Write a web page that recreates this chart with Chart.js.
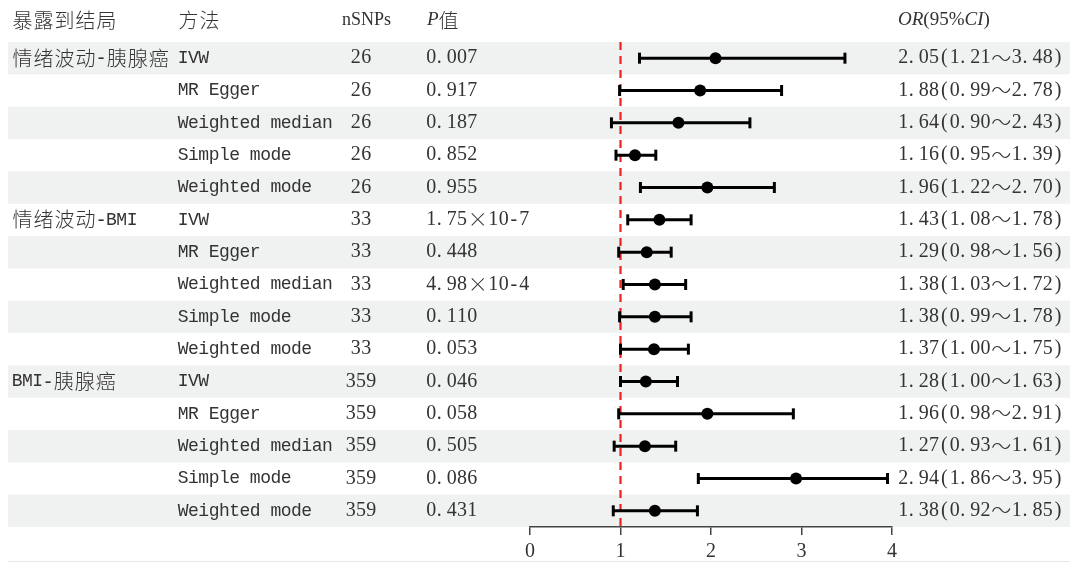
<!DOCTYPE html>
<html>
<head>
<meta charset="utf-8">
<script src="https://cdn.jsdelivr.net/npm/chart.js@4.4.1/dist/chart.umd.min.js"></script>
<style>
  html, body { margin: 0; padding: 0; background: #ffffff; }
  #wrap { width: 1070px; height: 562px; }
</style>
</head>
<body>
<div id="wrap"><canvas id="c" width="1070" height="562"></canvas></div>
<script>
// Rows, top to bottom
const exposures = ['情绪波动-胰腺癌', '', '', '', '', '情绪波动-BMI', '', '', '', '', 'BMI-胰腺癌', '', '', '', ''];
const methods = ['IVW', 'MR Egger', 'Weighted median', 'Simple mode', 'Weighted mode',
                 'IVW', 'MR Egger', 'Weighted median', 'Simple mode', 'Weighted mode',
                 'IVW', 'MR Egger', 'Weighted median', 'Simple mode', 'Weighted mode'];
const nsnps = [26, 26, 26, 26, 26, 33, 33, 33, 33, 33, 359, 359, 359, 359, 359];
const pvals = ['0.007', '0.917', '0.187', '0.852', '0.955',
               '1.75×10-7', '0.448', '4.98×10-4', '0.110', '0.053',
               '0.046', '0.058', '0.505', '0.086', '0.431'];
const orVals = [2.05, 1.88, 1.64, 1.16, 1.96, 1.43, 1.29, 1.38, 1.38, 1.37, 1.28, 1.96, 1.27, 2.94, 1.38];
const ciLow  = [1.21, 0.99, 0.90, 0.95, 1.22, 1.08, 0.98, 1.03, 0.99, 1.00, 1.00, 0.98, 0.93, 1.86, 0.92];
const ciHigh = [3.48, 2.78, 2.43, 1.39, 2.70, 1.78, 1.56, 1.72, 1.78, 1.75, 1.63, 2.91, 1.61, 3.95, 1.85];
const xTicks = [0, 1, 2, 3, 4];
const refValue = 1;

const TXT = '#333333';
const BAND = '#f0f1f1';
const HALF = 10.3, FULL = 21;
const CJK_FONT = '300 20px "Noto Sans CJK SC"';
const NUM_FONT = '20px "Liberation Serif"';
const LAT_FONT = '18px "Liberation Mono"';

function isWide(ch){ return ch === '×' || /[\u2E80-\u9FFF\uFF00-\uFFEF]/.test(ch); }

// SimSun-like fixed cell text: half width for latin, full width for CJK
function cellWidth(str){
  let w = 0;
  for (const ch of str) w += isWide(ch) ? FULL : HALF;
  return w;
}
function drawCells(ctx, str, x, y, align){
  if (align === 'center') x -= cellWidth(str) / 2;
  ctx.textBaseline = 'middle';
  for (const ch of str){
    if (isWide(ch)){
      ctx.font = CJK_FONT; ctx.textAlign = 'center';
      ctx.fillText(ch, x + FULL / 2, y);
      x += FULL;
    } else {
      if (ch === '.'){
        ctx.font = NUM_FONT; ctx.textAlign = 'left';
        ctx.fillText(ch, x + 0.5, y);
      } else {
        ctx.font = /[0-9()%\-]/.test(ch) ? NUM_FONT : LAT_FONT;
        ctx.textAlign = 'center';
        ctx.fillText(ch, x + HALF / 2, y);
      }
      x += HALF;
    }
  }
}
// proportional runs: [text, font]
function drawRuns(ctx, runs, x, y){
  ctx.textBaseline = 'middle'; ctx.textAlign = 'left';
  for (const r of runs){
    ctx.font = r[1];
    ctx.fillText(r[0], x, y);
    x += ctx.measureText(r[0]).width;
  }
}

const rowIdx = methods.map((m, i) => i + 1);

const tablePlugin = {
  id: 'forestTable',
  beforeDraw(chart){
    const ctx = chart.ctx, ys = chart.scales.y;
    ctx.save();
    ctx.fillStyle = BAND;
    rowIdx.forEach(r => {
      if (r % 2 === 1){
        const top = ys.getPixelForValue(r - 0.5), bot = ys.getPixelForValue(r + 0.5);
        ctx.fillRect(8, top, chart.width - 8, bot - top);
      }
    });
    ctx.restore();
  },
  afterDraw(chart){
    const ctx = chart.ctx, ys = chart.scales.y;
    ctx.save();
    ctx.fillStyle = TXT;
    const hy = 20;
    drawCells(ctx, '暴露到结局', 12, hy);
    drawCells(ctx, '方法', 178, hy);
    drawRuns(ctx, [['nSNPs', '18px "Liberation Serif"']], 342, hy);
    drawRuns(ctx, [['P', 'italic 19px "Liberation Serif"'], ['值', CJK_FONT]], 427, hy);
    drawRuns(ctx, [['OR', 'italic 19px "Liberation Serif"'], ['(95%', '19px "Liberation Serif"'],
                   ['CI', 'italic 19px "Liberation Serif"'], [')', '19px "Liberation Serif"']], 898, hy);
    rowIdx.forEach((r, i) => {
      const y = ys.getPixelForValue(r);
      if (exposures[i]) drawCells(ctx, exposures[i], 12, y);
      drawCells(ctx, methods[i], 178, y);
      drawCells(ctx, String(nsnps[i]), 361, y, 'center');
      drawCells(ctx, pvals[i], 426, y);
      const s = orVals[i].toFixed(2) + '(' + ciLow[i].toFixed(2) + '～' + ciHigh[i].toFixed(2) + ')';
      drawCells(ctx, s, 898, y);
    });
    // faint frame line at the bottom
    ctx.strokeStyle = '#e8e8e8'; ctx.lineWidth = 1;
    ctx.beginPath(); ctx.moveTo(8, 561.5); ctx.lineTo(chart.width, 561.5); ctx.stroke();
    ctx.restore();
  }
};

const ciSets = rowIdx.map((r, i) => ({
  data: [{x: ciLow[i], y: r}, {x: ciHigh[i], y: r}],
  showLine: true,
  borderColor: '#000', borderWidth: 3,
  pointStyle: 'line', pointRotation: 90, pointRadius: 5.5,
  pointBorderColor: '#000', pointBorderWidth: 3, pointHoverRadius: 5.5,
  order: 1
}));

new Chart(document.getElementById('c'), {
  type: 'scatter',
  data: {
    datasets: [
      {
        data: rowIdx.map((r, i) => ({x: orVals[i], y: r})),
        pointStyle: 'circle', pointRadius: 6,
        backgroundColor: '#000', borderColor: '#000', borderWidth: 0,
        order: 0
      },
      ...ciSets,
      {
        data: [{x: refValue, y: 0.5}, {x: refValue, y: 15.5}],
        showLine: true, pointRadius: 0,
        borderColor: '#ee2222', borderWidth: 2.2, borderDash: [8, 6],
        order: 2
      }
    ]
  },
  options: {
    responsive: false,
    animation: false,
    devicePixelRatio: 1,
    layout: { padding: { left: 530, right: 178, top: 42, bottom: 0 } },
    plugins: { legend: { display: false }, tooltip: { enabled: false } },
    scales: {
      x: {
        type: 'linear', min: 0, max: 4,
        afterBuildTicks(s){ s.ticks = xTicks.map(v => ({value: v})); },
        afterFit(s){ s.height = 35; },
        grid: { display: true, drawOnChartArea: false, drawTicks: true, tickLength: 8, color: '#444', lineWidth: 1.5 },
        border: { display: true, color: '#444', width: 1.5 },
        ticks: { color: TXT, font: { family: 'Liberation Serif', size: 20 }, padding: 5, maxRotation: 0 }
      },
      y: {
        type: 'linear', min: 0.5, max: 15.5, reverse: true, display: false
      }
    }
  },
  plugins: [tablePlugin]
});
</script>
</body>
</html>
